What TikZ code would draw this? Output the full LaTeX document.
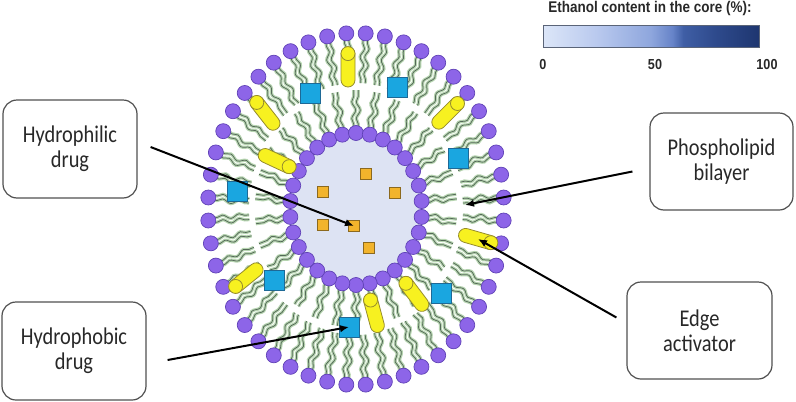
\documentclass[tikz,border=0pt]{standalone}
\usepackage{fontspec}
\usepackage{xcolor}
\usepackage{tikz}
\usetikzlibrary{shapes, arrows.meta, calc, decorations.pathmorphing}

\newfontfamily\boxfont[FakeStretch=0.85]{Carlito}
\newfontfamily\legendfont[FakeStretch=0.87]{Liberation Sans}

\definecolor{headfill}{RGB}{141,101,232}
\definecolor{headline}{RGB}{96,66,182}
\definecolor{corefill}{RGB}{221,227,243}
\definecolor{taildark}{RGB}{84,104,88}
\definecolor{tailglow}{RGB}{182,212,176}
\definecolor{cylfill}{RGB}{247,241,32}
\definecolor{cylline}{RGB}{150,140,45}
\definecolor{phobfill}{RGB}{26,166,224}
\definecolor{phobline}{RGB}{30,105,150}
\definecolor{philfill}{RGB}{242,180,44}
\definecolor{philline}{RGB}{140,105,30}
\definecolor{boxline}{RGB}{80,80,80}
\definecolor{textgray}{RGB}{40,40,40}
\definecolor{barlow}{RGB}{220,230,248}
\definecolor{barquart}{RGB}{185,201,238}
\definecolor{barmid}{RGB}{142,166,221}
\definecolor{barsix}{RGB}{102,131,200}
\definecolor{bardeep}{RGB}{63,94,165}
\definecolor{bareight}{RGB}{46,74,140}
\definecolor{barhigh}{RGB}{30,54,112}
\definecolor{barline}{RGB}{90,100,120}

\pgfdeclarehorizontalshading{ethanolbar}{100bp}{color(0bp)=(barlow); color(25bp)=(barlow); color(37.5bp)=(barquart); color(50bp)=(barmid); color(55bp)=(barsix); color(57.5bp)=(bardeep); color(65bp)=(bareight); color(75bp)=(barhigh); color(100bp)=(barhigh)}

\begin{document}
\begin{tikzpicture}[x=1pt, y=-1pt]
            \tikzstyle{head}=[circle, draw=headline, fill=headfill, line width=0.7pt, minimum size=15pt, inner sep=0pt]
            \tikzstyle{tail glow}=[draw=tailglow, line width=3.2pt, decorate, decoration={snake, amplitude=2pt, segment length=17pt, pre length=4pt, post length=1pt}]
            \tikzstyle{tail}=[draw=taildark, line width=0.75pt, decorate, decoration={snake, amplitude=2pt, segment length=17pt, pre length=4pt, post length=1pt}]
            \tikzstyle{cylbody}=[rectangle, draw=cylline, fill=cylfill, line width=0.8pt, rounded corners=7pt, minimum width=40pt, minimum height=14pt, inner sep=0pt]
            \tikzstyle{cylcap}=[circle, draw=cylline, fill=cylfill, line width=0.8pt, minimum size=14pt, inner sep=0pt]
            \tikzstyle{phobdrug}=[rectangle, draw=phobline, fill=phobfill, line width=0.8pt, minimum size=20pt, inner sep=0pt]
            \tikzstyle{phildrug}=[rectangle, draw=philline, fill=philfill, line width=0.8pt, minimum size=11pt, inner sep=0pt]
            \tikzstyle{tagbox}=[draw=boxline, line width=1.2pt, rounded corners=14pt, align=center, text=textgray, font={\boxfont\fontsize{24pt}{25pt}\selectfont}]
            \tikzstyle{pointer}=[draw=black, line width=2pt, -{Latex[length=9pt, width=7.5pt]}]
            \tikzstyle{legendtext}=[text=textgray, inner sep=0pt, font={\legendfont\bfseries\fontsize{15.5pt}{16pt}\selectfont}]
            \useasboundingbox (0,0) rectangle (796,402);

            % core
            \fill[corefill] (356,209) ellipse [x radius=68, y radius=78];

            % outer leaflet tails
            \foreach \k in {1,...,48}{
                \pgfmathsetmacro\t{(\k-0.5)*7.5}
                \coordinate (ta) at ({356+143*cos(\t)},{209+170*sin(\t)});
                \coordinate (tb) at ({356+107*cos(\t)},{209+126*sin(\t)});
                \foreach \s in {-2.3pt,2.3pt}{
                    \coordinate (p) at ($(ta)!\s!90:(tb)$);
                    \coordinate (q) at ($(tb)!\s!-90:(ta)$);
                    \draw[tail glow] (p) -- (q);
                    \draw[tail] (p) -- (q);
                }
            }
            % inner leaflet tails
            \foreach \k in {1,...,30}{
                \pgfmathsetmacro\t{(\k-0.5)*12}
                \coordinate (ta) at ({356+70*cos(\t)},{209+81*sin(\t)});
                \coordinate (tb) at ({356+101*cos(\t)},{209+119*sin(\t)});
                \foreach \s in {-2.3pt,2.3pt}{
                    \coordinate (p) at ($(ta)!\s!90:(tb)$);
                    \coordinate (q) at ($(tb)!\s!-90:(ta)$);
                    \draw[tail glow] (p) -- (q);
                    \draw[tail] (p) -- (q);
                }
            }

            % heads
            \foreach \k in {1,...,48}{
                \pgfmathsetmacro\t{(\k-0.5)*7.5}
                \node[head] (ho\k) at ({356+148*cos(\t)},{209+176*sin(\t)}) {};
            }
            \foreach \k in {1,...,30}{
                \pgfmathsetmacro\t{(\k-0.5)*12}
                \node[head] (hi\k) at ({356+66*cos(\t)},{209+76*sin(\t)}) {};
            }

            % drugs in the core
            \foreach \n/\x/\y in {1/366/174, 2/323/192, 3/395/193, 4/323/225, 5/354/226, 6/369/248}
                \node[phildrug] (od\n) at (\x,\y) {};

            % drugs in the bilayer
            \foreach \n/\x/\y in {1/310/93, 2/397/87, 3/458/158, 4/237/191, 5/274/280, 6/441/293, 7/349/327}
                \node[phobdrug] (bs\n) at (\x,\y) {};

            % edge activators
            \foreach \n/\x/\y/\a in {1/348/67/90, 2/265/113/128, 3/277/161/-25, 4/448/113/45, 5/478/239/-16, 6/246/278/219, 7/414/294/127, 8/374/313/105}{
                \node[cylbody, rotate=\a] (cy\n) at (\x,\y) {};
                \node[cylcap] (cy\n c) at ($(cy\n.east)!7pt!(cy\n.west)$) {};
            }

            % callouts
            \node[tagbox, minimum width=134pt, minimum height=98pt] (hphil) at (70,149) {Hydrophilic\\drug};
            \node[tagbox, minimum width=144pt, minimum height=98pt] (hphob) at (74,351) {Hydrophobic\\drug};
            \node[tagbox, minimum width=143pt, minimum height=97pt] (plb) at (721.5,161.5) {Phospholipid\\bilayer};
            \node[tagbox, minimum width=145pt, minimum height=97pt] (edge) at (699.5,330.5) {Edge\\activator};

            \coordinate (hphil-tail) at ([shift={(13,-2)}]hphil.east);
            \coordinate (hphob-tail) at ([shift={(21,9)}]hphob.east);
            \coordinate (plb-tail) at ([shift={(-17,10)}]plb.west);
            \coordinate (edge-tail) at ([shift={(-10,-13)}]edge.west);
            \coordinate (bilayer) at (465,205);

            \draw[pointer] (hphil-tail) -- (od5.center);
            \draw[pointer] (hphob-tail) -- (bs7.center);
            \draw[pointer] (plb-tail) -- (bilayer);
            \draw[pointer] (edge-tail) -- (cy5.center);

            % legend
            \node[legendtext] (lgtitle) at (650,8) {Ethanol content in the core (\%):};
            \node[draw=barline, line width=1pt, shading=ethanolbar, minimum width=216pt, minimum height=22pt, inner sep=0pt] (lgbar) at (651,36) {};
            \node[legendtext, font={\legendfont\bfseries\fontsize{14.5pt}{16pt}\selectfont}] (lg0) at (543,65) {0};
            \node[legendtext, font={\legendfont\bfseries\fontsize{14.5pt}{16pt}\selectfont}] (lg50) at (655,65) {50};
            \node[legendtext, font={\legendfont\bfseries\fontsize{14.5pt}{16pt}\selectfont}] (lg100) at (767,65) {100};
\end{tikzpicture}
\end{document}
